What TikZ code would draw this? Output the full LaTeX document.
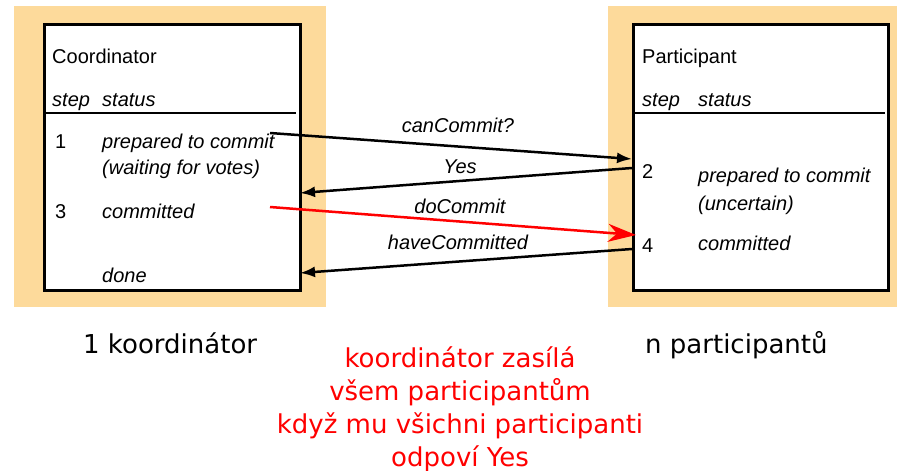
\documentclass[tikz,border=0pt]{standalone}
\usepackage{fontspec}
\setmainfont{Liberation Sans}
\newfontfamily\dejavu{DejaVu Sans}
\usetikzlibrary{arrows.meta}
\definecolor{backorange}{RGB}{253,218,155}

\begin{document}
\begin{tikzpicture}[x=1pt,y=-1pt,
    back/.style={
% The shape:
rectangle,
% The size:
minimum height=301pt,
% The fill:
fill=backorange, inner sep=0pt,
},
    proc/.style={
% The shape:
rectangle,
% The size:
minimum height=266pt,
minimum width=256pt,
% The border:
line width=3pt, draw, fill=white, inner sep=0pt,
},
    txt/.style={anchor=base west, inner sep=0pt,
      font=\fontsize{20}{24}\selectfont},
    it/.style={txt, font=\fontsize{20}{24}\selectfont\itshape},
    lbl/.style={inner sep=0pt, font=\fontsize{20}{24}\selectfont\itshape},
    rule/.style={line width=2.5pt},
    msg/.style={line width=2.5pt, -{Latex[length=15pt,width=11pt]}},
    caption/.style={anchor=base west, inner sep=0pt,
      font=\dejavu\fontsize{26}{33}\selectfont},
]
  \useasboundingbox (0,0) rectangle (897,471);

  \node[back, minimum width=312pt]       (cback) at (170, 156.5) {};
  \node[back, minimum width=289pt]       (pback) at (752.5, 156.5) {};
  \node[proc]                            (coord) at (172, 157) {};
  \node[proc, minimum width=255pt]       (part) at (760.5, 157) {};
  \draw[rule] (44,113) -- (296,113);
  \draw[rule] (633,113) -- (885,113);

  % coordinator
  \node[txt] (c-name)   at (52, 63) {Coordinator};
  \node[it]  (c-step)   at (52, 106) {step};
  \node[it]  (c-status) at (102, 106) {status};
  \node[txt] (c-1)      at (55, 148) {1};
  \node[it]  (c-prep)   at (102, 148) {prepared to commit};
  \node[it]  (c-wait)   at (102, 174) {(waiting for votes)};
  \node[txt] (c-3)      at (55, 218) {3};
  \node[it]  (c-comm)   at (102, 218) {committed};
  \node[it]  (c-done)   at (102, 282) {done};

  % participant
  \node[txt] (p-name)   at (642, 63) {Participant};
  \node[it]  (p-step)   at (642, 106) {step};
  \node[it]  (p-status) at (698, 106) {status};
  \node[txt] (p-2)      at (642, 178) {2};
  \node[it]  (p-prep)   at (698, 182) {prepared to commit};
  \node[it]  (p-unc)    at (698, 210) {(uncertain)};
  \node[txt] (p-4)      at (642, 252) {4};
  \node[it]  (p-comm)   at (698, 250) {committed};

  \coordinate (ask)    at (270, 133);
  \coordinate (askin)  at (632, 159);
  \coordinate (yes)    at (632, 168);
  \coordinate (yesin)  at (300, 193);
  \coordinate (go)     at (270, 207);
  \coordinate (goin)   at (636, 235);
  \coordinate (have)   at (632, 249);
  \coordinate (havein) at (300, 273);

  \draw[msg] (ask) -- (askin);
  \draw[msg] (yes) -- (yesin);
  \draw[msg, red, -{Stealth[length=28pt,width=18pt,inset=9pt]}] (go) -- (goin);
  \draw[msg] (have) -- (havein);

  \node[lbl] (l-ask)  at (458, 125) {canCommit?};
  \node[lbl] (l-yes)  at (460, 167) {Yes};
  \node[lbl] (l-go)   at (460, 206) {doCommit};
  \node[lbl] (l-have) at (458, 242) {haveCommitted};

  \node[caption] (n-coord) at (83, 353) {1 koordinátor};
  \node[caption] (n-part)  at (645, 353) {n participantů};
  \node[caption, anchor=base, align=center, text=red] (n-note) at (460, 466)
    {koordinátor zasílá\\všem participantům\\když mu všichni participanti\\odpoví Yes};
\end{tikzpicture}
\end{document}
